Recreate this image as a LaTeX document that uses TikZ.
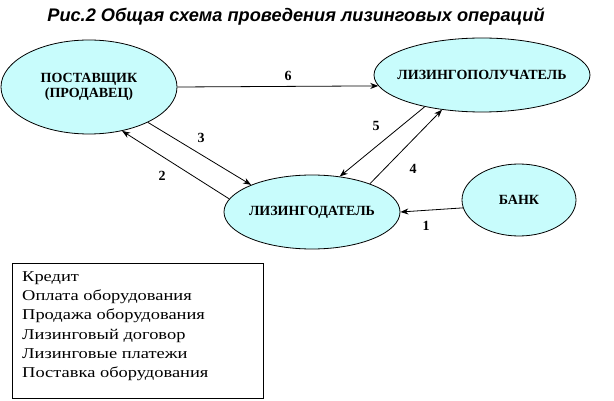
\documentclass[tikz,border=0pt]{standalone}
\usepackage{fontspec}
\setmainfont{Liberation Serif}
\newfontfamily\titlefont{Liberation Sans}
\newfontfamily\legendfont[FakeStretch=1.23]{Liberation Serif}
\usetikzlibrary{arrows.meta,shapes.geometric}
\definecolor{ellfill}{HTML}{C8FCFC}
\newcommand{\zw}[1]{\makebox[0pt]{#1}}
\tikzset{
  ell/.style={ellipse, draw=black, line width=0.8pt, fill=ellfill, inner sep=0pt,
    font=\fontsize{14}{15.5}\selectfont\bfseries, align=center},
  conn/.style={line width=0.8pt, -{Stealth[length=8pt,width=6pt,inset=2.5pt]}},
  num/.style={font=\fontsize{14}{15}\selectfont\bfseries, inner sep=0pt},
}
\begin{document}
\begin{tikzpicture}[x=1pt,y=-1pt]
\useasboundingbox (0,0) rectangle (614,401);
\node[font=\titlefont\fontsize{18.2}{20}\selectfont\bfseries\itshape] (title) at (296,17) {Рис.2 Общая схема проведения лизинговых операций};
\node[ell, minimum width=176pt, minimum height=94pt] (post) at (89,87) {\zw{ПОСТАВЩИК}\\\zw{(ПРОДАВЕЦ)}};
\node[ell, minimum width=216pt, minimum height=74pt] (lessee) at (482,75) {\zw{ЛИЗИНГОПОЛУЧАТЕЛЬ}};
\node[ell, minimum width=176pt, minimum height=74pt] (lessor) at (312,212) {\zw{ЛИЗИНГОДАТЕЛЬ}};
\node[ell, minimum width=114pt, minimum height=72pt] (bank) at (519,200) {\zw{БАНК}};
\draw[conn] (post.east) -- (lessee.186);
\draw[conn] (post.-31) -- (lessor.156);
\draw[conn] (lessor.171) -- (post.-53);
\draw[conn] (lessee.209) -- (lessor.52);
\draw[conn] (lessor.26) -- (lessee.221);
\draw[conn] (bank.188) -- (lessor.east);
\node[num] (n6) at (288,76) {6};
\node[num] (n3) at (201,138) {3};
\node[num] (n2) at (162,176) {2};
\node[num] (n5) at (376,126) {5};
\node[num] (n4) at (413,169) {4};
\node[num] (n1) at (426,226) {1};
\node[draw=black, line width=0.8pt, minimum width=251pt, minimum height=135pt, inner sep=0pt] (legendbox) at (137.5,330.5) {};
\node[anchor=north west, align=left, inner sep=0pt, font=\legendfont\fontsize{15}{19.2}\selectfont] (legend) at (22,271.5)
{Кредит\\Оплата оборудования\\Продажа оборудования\\Лизинговый договор\\Лизинговые платежи\\Поставка оборудования};
\end{tikzpicture}
\end{document}
